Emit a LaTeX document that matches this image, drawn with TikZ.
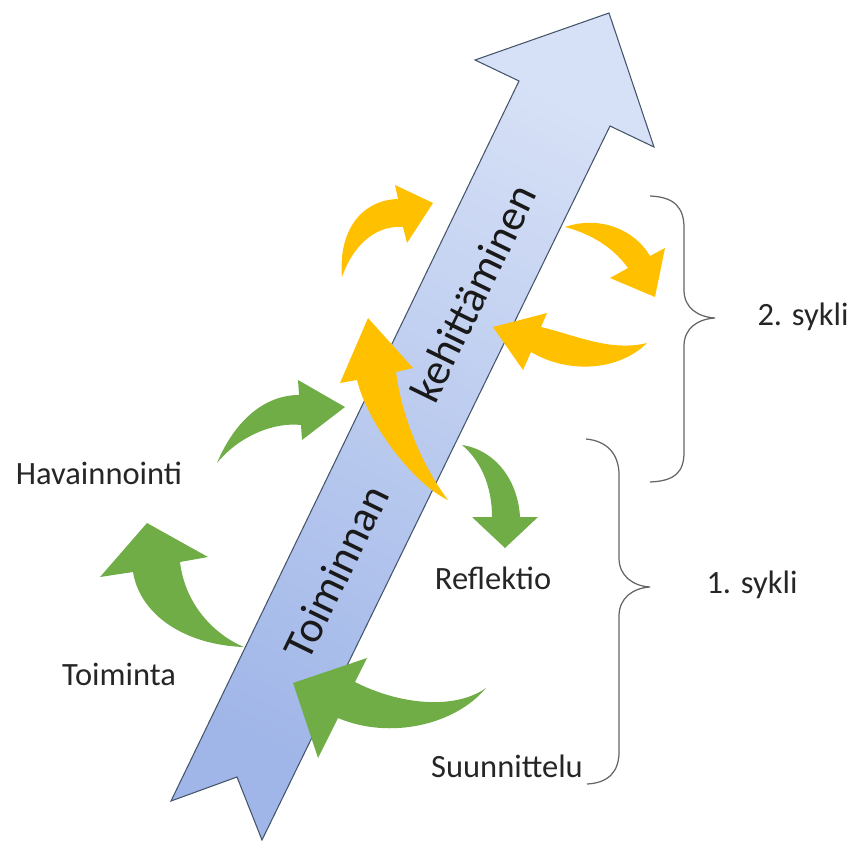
\documentclass[tikz,border=0pt]{standalone}
\usepackage{fontspec}
\setmainfont{Carlito}
\definecolor{cyclegreen}{RGB}{112,173,71}
\definecolor{cycleyellow}{RGB}{255,192,0}
\definecolor{shafttop}{RGB}{214,224,246}
\definecolor{shaftbottom}{RGB}{160,182,232}
\definecolor{shaftline}{RGB}{68,84,106}
\definecolor{bracegray}{RGB}{100,100,100}

\tikzset{
  greenarr/.style={fill=cyclegreen},
  yellowarr/.style={fill=cycleyellow},
  phase/.style={font=\fontsize{18.5}{20}\selectfont, text=black!85, inner sep=0pt},
  shafttext/.style={font=\fontsize{25}{28}\selectfont, text=black!90, rotate=64, inner sep=0pt},
  curly/.style={draw=bracegray, line width=0.7pt}
}

\begin{document}
\begin{tikzpicture}[x=0.02cm,y=-0.02cm]
\useasboundingbox (0,0) rectangle (851,842);

%big arrow
\draw[draw=shaftline, line width=0.6pt, top color=shafttop, bottom color=shaftbottom, shading angle=-26]
  (171,801) -- (237,777) -- (262,840) -- (610,126) -- (654,147) -- (609,13) -- (475,60) -- (519,81) -- cycle;
\node[shafttext] (kehitys) at (473,293) {kehittäminen};
\node[shafttext] (toiminnan) at (336,572) {Toiminnan};

%green cycle
\fill[greenarr] (217,463) .. controls (235,420) and (265,395) .. (299,395) -- (298,380) -- (345,407) -- (302,440) -- (301,425) .. controls (275,422) and (240,435) .. (217,463) -- cycle;
\fill[greenarr] (462,445) .. controls (495,450) and (518,480) .. (520,517) -- (538,517) -- (505,548) -- (472,517) -- (492,517) .. controls (492,485) and (480,460) .. (462,445) -- cycle;
\fill[greenarr] (244,647) .. controls (215,635) and (185,605) .. (180,562) -- (208,557) -- (147,523) -- (100,577) -- (133,572) .. controls (140,615) and (185,645) .. (244,647) -- cycle;
\fill[greenarr] (486,688) .. controls (455,710) and (400,705) .. (355,682) -- (367,658) -- (293,683) -- (318,758) -- (338,718) .. controls (390,740) and (455,725) .. (486,688) -- cycle;

%yellow cycle
\fill[yellowarr] (342,277) .. controls (338,230) and (362,200) .. (398,199) -- (395,185) -- (433,203) -- (407,243) -- (403,227) .. controls (380,225) and (355,240) .. (342,277) -- cycle;
\fill[yellowarr] (565,227) .. controls (600,215) and (635,230) .. (650,256) -- (665,248) -- (655,297) -- (610,278) -- (628,268) .. controls (615,250) and (595,235) .. (565,227) -- cycle;
\fill[yellowarr] (647,343) .. controls (610,352) and (575,335) .. (541,327) -- (547,313) -- (493,327) -- (523,370) -- (531,352) .. controls (570,375) and (620,370) .. (647,343) -- cycle;
\fill[yellowarr] (448,500) .. controls (415,485) and (368,425) .. (357,380) -- (340,383) -- (368,318) -- (413,368) -- (396,372) .. controls (402,420) and (425,470) .. (448,500) -- cycle;

%braces
\draw[curly] (650,196) .. controls (675,197) and (684,208) .. (684,228) -- (684,290) .. controls (684,308) and (698,317) .. (715,318) .. controls (698,319) and (684,328) .. (684,346) -- (684,452) .. controls (684,472) and (675,481) .. (650,482);
\draw[curly] (586,439) .. controls (608,441) and (619,455) .. (619,475) -- (619,558) .. controls (619,576) and (633,586) .. (650,587) .. controls (633,588) and (619,598) .. (619,616) -- (619,752) .. controls (619,772) and (608,783) .. (587,784);

%labels
\node[phase] (havainnointi) at (99,473) {Havainnointi};
\node[phase] (toiminta) at (119,674) {Toiminta};
\node[phase] (reflektio) at (493,578) {Reflektio};
\node[phase] (suunnittelu) at (507,766) {Suunnittelu};
\node[phase] (sykli2) at (803,317) {2. sykli};
\node[phase] (sykli1) at (752,585) {1. sykli};
\end{tikzpicture}
\end{document}
